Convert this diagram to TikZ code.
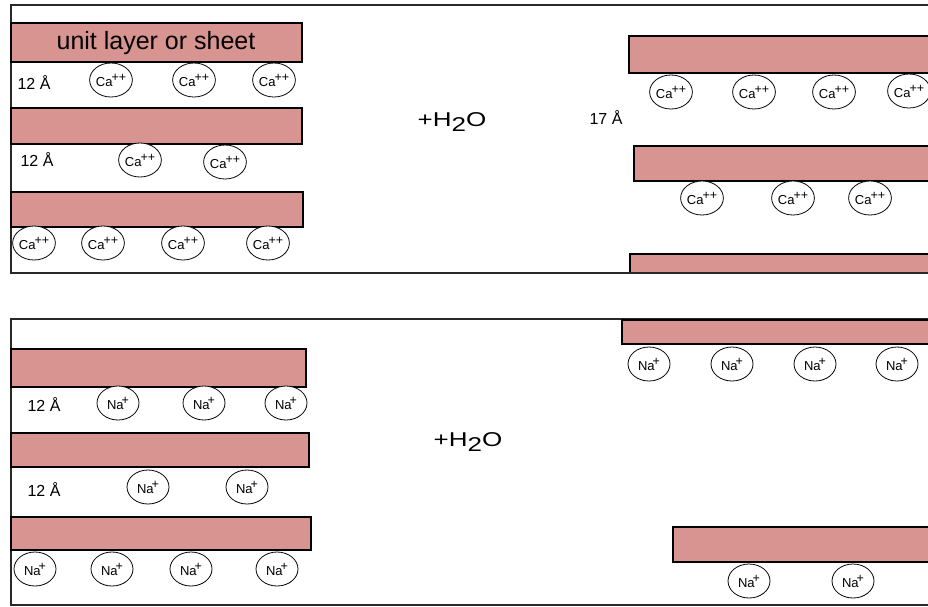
\documentclass[tikz,border=0pt]{standalone}
\usepackage{fontspec}
\setmainfont{Liberation Sans}
\usetikzlibrary{shapes.geometric}
\definecolor{sheetcol}{RGB}{216,148,144}
\definecolor{framecol}{RGB}{40,40,40}
\newcommand{\caion}{Ca\kern-1pt\raisebox{5pt}{\fontsize{12.5}{12.5}\selectfont ++}}
\newcommand{\naion}{Na\kern-2pt\raisebox{5pt}{\fontsize{12.5}{12.5}\selectfont +}}
\begin{document}
\begin{tikzpicture}[x=1pt,y=-1pt,
  sheet/.style={draw=black,fill=sheetcol,line width=1.3pt},
  frame/.style={draw=framecol,line width=1.2pt},
  ion/.style={ellipse,draw=black,fill=white,line width=0.8pt,minimum width=42pt,minimum height=34pt,inner sep=0pt,font=\fontsize{13}{13}\selectfont},
  dist/.style={font=\fontsize{16}{16}\selectfont,inner sep=0pt},
  water/.style={font=\fontsize{20}{20}\selectfont,inner sep=0pt,xscale=1.3}
]
\useasboundingbox (0,0) rectangle (928,606);
\clip (0,0) rectangle (928,606);
\fill[white] (0,0) rectangle (928,606);

% ---------------- top panel (Ca) ----------------
\draw[frame] (11,5) rectangle (945,273);
\draw[sheet] (11,23) rectangle (302,62);
\node[inner sep=0pt,font=\fontsize{25}{25}\selectfont] (unit) at (156,43) {unit layer or sheet};
\draw[sheet] (11,108) rectangle (302,144);
\draw[sheet] (11,192) rectangle (303,227);

\node[dist] (dA) at (34,83) {12 Å};
\node[dist] (dB) at (37,160) {12 Å};

\node[ion] (ca1) at (111,80) {\caion};
\node[ion] (ca2) at (194,80) {\caion};
\node[ion] (ca3) at (274,80) {\caion};
\node[ion] (ca4) at (140,160) {\caion};
\node[ion] (ca5) at (225,162) {\caion};
\node[ion] (ca6) at (34,243) {\caion};
\node[ion] (ca7) at (103,243) {\caion};
\node[ion] (ca8) at (183,243) {\caion};
\node[ion] (ca9) at (268,243) {\caion};

\node[water] (w1) at (452,122) {+H\raisebox{-5pt}{2}O};

\draw[sheet] (629,36) rectangle (945,73);
\draw[sheet] (634,146) rectangle (945,181);
\draw[sheet] (630,254) rectangle (945,273);
\draw[frame] (600,273) -- (945,273);

\node[dist] (dC) at (606,118) {17 Å};

\node[ion] (cb1) at (671,92) {\caion};
\node[ion] (cb2) at (754,92) {\caion};
\node[ion] (cb3) at (834,92) {\caion};
\node[ion] (cb4) at (909,91) {\caion};
\node[ion] (cb5) at (702,198) {\caion};
\node[ion] (cb6) at (793,198) {\caion};
\node[ion] (cb7) at (870,198) {\caion};

% ---------------- bottom panel (Na) ----------------
\draw[frame] (11,319) rectangle (945,605);
\draw[sheet] (11,349) rectangle (306,387);
\draw[sheet] (11,433) rectangle (309,467);
\draw[sheet] (11,517) rectangle (311,550);

\node[dist] (dD) at (44,405) {12 Å};
\node[dist] (dE) at (44,490) {12 Å};

\node[ion] (na1) at (118,403) {\naion};
\node[ion] (na2) at (204,403) {\naion};
\node[ion] (na3) at (286,403) {\naion};
\node[ion] (na4) at (148,487) {\naion};
\node[ion] (na5) at (247,487) {\naion};
\node[ion] (na6) at (35,569) {\naion};
\node[ion] (na7) at (112,569) {\naion};
\node[ion] (na8) at (191,569) {\naion};
\node[ion] (na9) at (277,569) {\naion};

\node[water] (w2) at (468,442) {+H\raisebox{-5pt}{2}O};

\draw[sheet] (622,320) rectangle (945,344);
\draw[sheet] (673,527) rectangle (945,562);

\node[ion] (nb1) at (649,364) {\naion};
\node[ion] (nb2) at (732,364) {\naion};
\node[ion] (nb3) at (815,364) {\naion};
\node[ion] (nb4) at (897,364) {\naion};
\node[ion] (nb5) at (749,581) {\naion};
\node[ion] (nb6) at (853,581) {\naion};
\end{tikzpicture}
\end{document}
